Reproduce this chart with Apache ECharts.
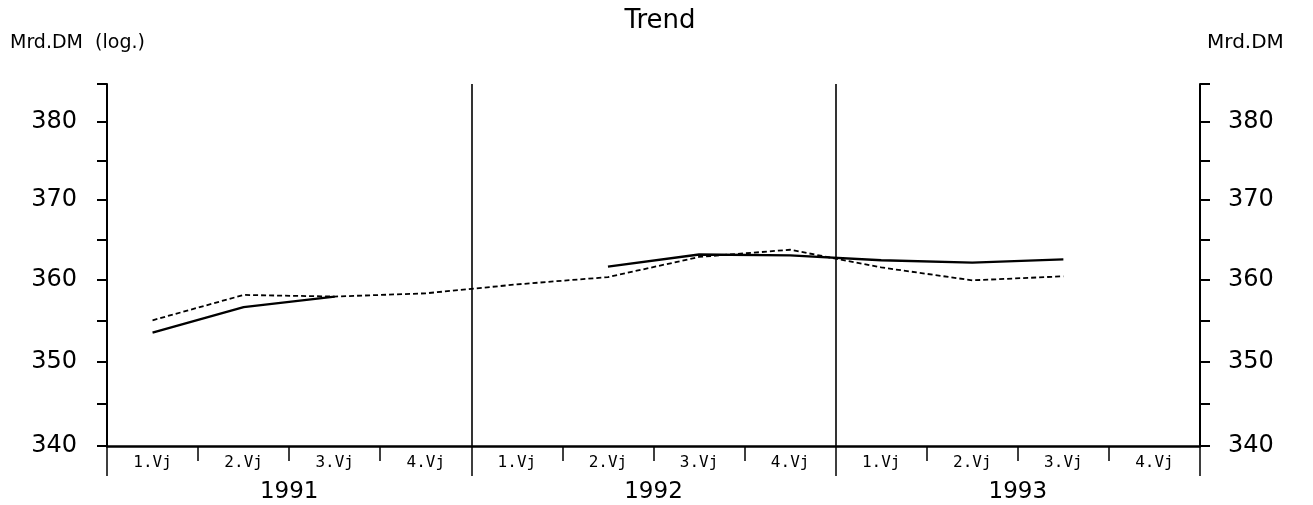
<!DOCTYPE html>
<html><head><meta charset="utf-8">
<script src="https://cdn.jsdelivr.net/npm/echarts/dist/echarts.min.js"></script>
<style>html,body{margin:0;padding:0;background:#fff}#c{width:1313px;height:505px}</style>
</head><body><div id="c"></div>
<script>
const quarters = ['1.Vj','2.Vj','3.Vj','4.Vj','1.Vj','2.Vj','3.Vj','4.Vj','1.Vj','2.Vj','3.Vj','4.Vj'];
const years = ['1991','1992','1993'];
const solidValues  = [353.5, 356.6, 357.9, null, null, 361.6, 363.1, 363.0, 362.4, 362.1, 362.5, null];
const dashedValues = [355.0, 358.1, 357.9, 358.3, 359.4, 360.3, 362.8, 363.7, 361.5, 359.9, 360.4, null];
const yTickValues  = [340, 345, 350, 355, 360, 365, 370, 375, 380, 385];
const yLabelValues = [340, 350, 360, 370, 380];
const yMin = 340, yMax = 385;

const L = v => (v == null ? null : Math.log(v));
const numFont = 'DejaVu Sans';

function yAxisCfg(pos, name, nameStyle, margin) {
  return {
    type: 'value', position: pos, min: L(yMin), max: L(yMax),
    name: name, nameLocation: 'end', nameGap: 31,
    nameTextStyle: nameStyle,
    axisLine: {show: true, lineStyle: {color: '#000', width: 2}},
    axisTick: {show: true, length: 10, customValues: yTickValues.map(L), lineStyle: {color: '#000', width: 2}},
    axisLabel: {customValues: yLabelValues.map(L), formatter: v => String(Math.round(Math.exp(v))),
      color: '#000', fontFamily: numFont, fontSize: 24, margin: margin},
    splitLine: {show: false}
  };
}

const chart = echarts.init(document.getElementById('c'), null, {renderer: 'canvas'});
chart.setOption({
  animation: false,
  backgroundColor: '#fff',
  title: {text: 'Trend', left: 655, top: 3, textAlign: 'center',
    textStyle: {color: '#000', fontFamily: numFont, fontWeight: 'normal', fontSize: 26}},
  grid: {left: 107, right: 113, top: 84, bottom: 59, containLabel: false},
  xAxis: [
    {type: 'category', position: 'bottom', data: quarters, boundaryGap: true,
      axisLine: {show: true, lineStyle: {color: '#000', width: 2.5}},
      axisTick: {show: true, interval: 0, length: 15, lineStyle: {color: '#000', width: 1.5}},
      axisLabel: {interval: 0, color: '#000', fontFamily: 'DejaVu Sans Mono', fontSize: 16, margin: 9},
      splitLine: {show: false}},
    {type: 'category', position: 'bottom', data: years, boundaryGap: true,
      axisLine: {show: false},
      axisTick: {show: true, interval: 0, length: 30, lineStyle: {color: '#000', width: 1.5}},
      axisLabel: {interval: 0, color: '#000', fontFamily: numFont, fontSize: 23, margin: 35},
      splitLine: {show: true, interval: 0, lineStyle: {color: '#000', width: 1.6}}}
  ],
  yAxis: [
    yAxisCfg('left', 'Mrd.DM  (log.)', {color: '#000', fontFamily: numFont, fontSize: 19, align: 'left', padding: [0, 0, 0, -97]}, 30),
    yAxisCfg('right', 'Mrd.DM', {color: '#000', fontFamily: numFont, fontSize: 20, align: 'left', padding: [0, 0, 0, 7]}, 28)
  ],
  series: [
    {type: 'line', name: 'solid', xAxisIndex: 0, yAxisIndex: 0, data: solidValues.map(L),
      showSymbol: false, symbol: 'none', connectNulls: false,
      lineStyle: {color: '#000', width: 2.4, type: 'solid'}},
    {type: 'line', name: 'dashed', xAxisIndex: 0, yAxisIndex: 0, data: dashedValues.map(L),
      showSymbol: false, symbol: 'none', connectNulls: false,
      lineStyle: {color: '#000', width: 1.8, type: [5, 3]}}
  ]
});
</script></body></html>
